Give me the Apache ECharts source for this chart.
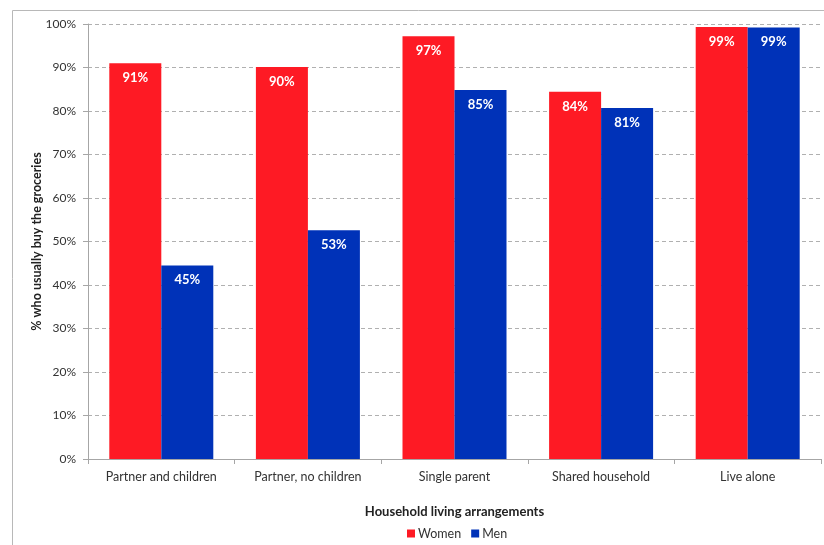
<!DOCTYPE html>
<html>
<head>
<meta charset="utf-8">
<script src="https://cdn.jsdelivr.net/npm/echarts@6/dist/echarts.min.js"></script>
<style>
html,body{margin:0;padding:0;background:#fff;}
#c{width:824px;height:545px;}
</style>
</head>
<body>
<div id="c"></div>
<script>
var categories = ['Partner and children', 'Partner, no children', 'Single parent', 'Shared household', 'Live alone'];
var women = [91.0, 90.1, 97.2, 84.4, 99.3];
var men = [44.5, 52.6, 84.8, 80.7, 99.2];
var yTicks = [0, 10, 20, 30, 40, 50, 60, 70, 80, 90, 100];

var FONT = 'Lato, "Open Sans", sans-serif';
var chart = echarts.init(document.getElementById('c'));
var labelOpt = {
  show: true, position: 'insideTop', distance: 8,
  color: '#fff', fontWeight: 'bold', fontSize: 13, fontFamily: FONT,
  formatter: function (p) { return Math.round(p.value) + '%'; }
};
chart.setOption({
  animation: false,
  textStyle: { fontFamily: FONT },
  graphic: [{
    type: 'rect', silent: true,
    shape: { x: 12.5, y: 10.5, width: 840, height: 560 },
    style: { fill: 'none', stroke: '#b8b8b8', lineWidth: 1 }
  }],
  grid: { left: 88, right: 3, top: 24, bottom: 86 },
  legend: {
    data: ['Women', 'Men'], top: 522, left: 402,
    itemWidth: 8, itemHeight: 8, itemGap: 10,
    icon: 'rect',
    textStyle: { fontSize: 12.5, color: '#333', fontFamily: FONT, padding: [0, 0, 0, -2] }
  },
  xAxis: {
    type: 'category', data: categories,
    name: 'Household living arrangements', nameLocation: 'middle', nameGap: 46,
    nameMoveOverlap: false,
    nameTextStyle: { fontWeight: 'bold', fontSize: 13, color: '#222', fontFamily: FONT },
    axisLine: { lineStyle: { color: '#a6a6a6' } },
    axisTick: { show: true, alignWithLabel: false, length: 5, lineStyle: { color: '#a6a6a6' } },
    axisLabel: { fontSize: 12.5, color: '#333', margin: 11, fontFamily: FONT }
  },
  yAxis: {
    type: 'value', min: 0, max: 100, interval: 10,
    name: '% who usually buy the groceries', nameLocation: 'middle', nameGap: 45,
    nameMoveOverlap: false,
    nameTextStyle: { fontWeight: 'bold', fontSize: 12.5, color: '#222', fontFamily: FONT },
    axisLine: { show: true, lineStyle: { color: '#a6a6a6' } },
    axisTick: { show: true, length: 5, inside: false, lineStyle: { color: '#a6a6a6' } },
    axisLabel: {
      fontSize: 12, color: '#333', margin: 12, fontFamily: FONT,
      formatter: function (v) { return yTicks.indexOf(v) >= 0 ? v + '%' : ''; }
    },
    splitLine: { show: true, lineStyle: { color: '#b0b0b0', type: [4, 3] } }
  },
  series: [
    { name: 'Women', type: 'bar', data: women, barWidth: 52, barGap: '0%',
      itemStyle: { color: '#fe1a24' }, label: labelOpt },
    { name: 'Men', type: 'bar', data: men, barWidth: 52, barGap: '0%',
      itemStyle: { color: '#0032b8' }, label: labelOpt }
  ]
});
</script>
</body>
</html>
